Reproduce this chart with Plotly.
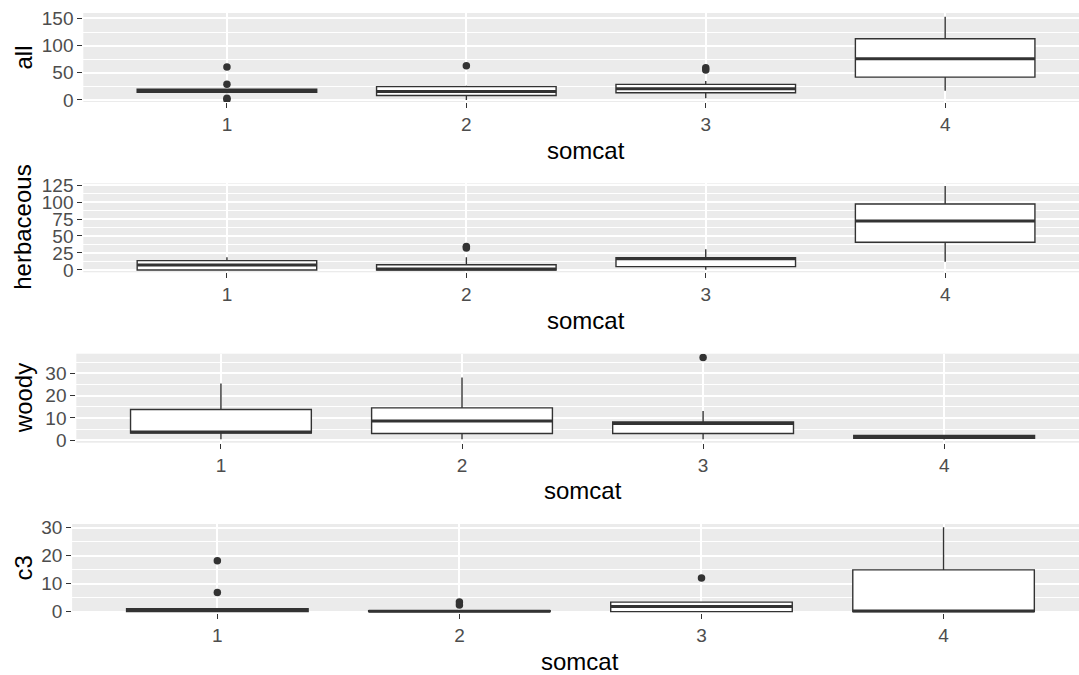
import plotly.graph_objects as go

# ---------------- data ----------------
categories = [1, 2, 3, 4]
tick_labels = ["1", "2", "3", "4"]
panel_names = ["all", "herbaceous", "woody", "c3"]
x_title = "somcat"

all_q1 = [14.0, 8.0, 13.2, 42.0]
all_median = [17.0, 15.5, 20.5, 75.8]
all_q3 = [19.5, 24.5, 28.6, 112.6]
all_lower = [12.0, 0.0, 3.0, 16.9]
all_upper = [21.0, 26.0, 35.0, 153.0]
all_outliers = [[60.5, 29.0, 3.0, 0.5], [63.0], [59.0, 55.0], []]

herb_q1 = [0.0, 0.0, 4.9, 40.7]
herb_median = [7.4, 1.3, 16.6, 72.1]
herb_q3 = [13.7, 7.7, 18.1, 97.1]
herb_lower = [0.0, 0.0, 0.5, 12.2]
herb_upper = [18.7, 18.7, 30.4, 123.5]
herb_outliers = [[], [34.7, 32.2], [], []]

woody_q1 = [3.2, 3.0, 3.0, 0.9]
woody_median = [3.7, 8.6, 7.5, 1.5]
woody_q3 = [13.8, 14.5, 8.2, 2.1]
woody_lower = [0.5, 0.5, 0.5, 0.3]
woody_upper = [25.4, 28.1, 13.1, 2.5]
woody_outliers = [[], [], [37.1], []]

c3_q1 = [0.0, 0.0, 0.0, 0.0]
c3_median = [0.4, 0.1, 1.8, 0.2]
c3_q3 = [1.0, 0.3, 3.4, 14.9]
c3_lower = [0.0, 0.0, 0.0, 0.0]
c3_upper = [1.2, 0.4, 3.6, 30.1]
c3_outliers = [[18.2, 6.8], [3.4, 2.4], [12.0], []]

y_ticks_all = [0, 50, 100, 150]
y_ticks_herb = [0, 25, 50, 75, 100, 125]
y_ticks_woody = [0, 10, 20, 30]
y_ticks_c3 = [0, 10, 20, 30]

# ---------------- styling / layout ----------------
W, H = 1079, 675
panel_top = [13, 183.3, 353.7, 524]
panel_h = 89
panel_left = [83.3, 83.3, 76.3, 72.1]
full_right = 1088.8        # ggplot panel right edge (image is cropped at 1079)
y_ranges = [[-3.9, 160.0], [-3.4, 127.5], [-1.1, 38.8], [-0.5, 31.3]]
box_width = 0.75
INK = "#333333"
FONT = "Liberation Sans, Arial, sans-serif"

panels = [
    (all_q1, all_median, all_q3, all_lower, all_upper, all_outliers, y_ticks_all, 25),
    (herb_q1, herb_median, herb_q3, herb_lower, herb_upper, herb_outliers, y_ticks_herb, 12.5),
    (woody_q1, woody_median, woody_q3, woody_lower, woody_upper, woody_outliers, y_ticks_woody, 5),
    (c3_q1, c3_median, c3_q3, c3_lower, c3_upper, c3_outliers, y_ticks_c3, 5),
]

fig = go.Figure()
annotations = []
layout_axes = {}

for i, (q1, med, q3, lo, up, outs, yt, minor_step) in enumerate(panels):
    xa = "x" if i == 0 else f"x{i+1}"
    ya = "y" if i == 0 else f"y{i+1}"
    xkey = "xaxis" if i == 0 else f"xaxis{i+1}"
    ykey = "yaxis" if i == 0 else f"yaxis{i+1}"

    fig.add_trace(go.Box(
        x=categories, q1=q1, median=med, q3=q3, lowerfence=lo, upperfence=up,
        xaxis=xa, yaxis=ya, width=box_width, fillcolor="white",
        line=dict(color=INK, width=1.4), whiskerwidth=0, boxpoints=False,
        showlegend=False, hoverinfo="skip",
    ))
    # thicker median line (ggplot fatten = 2)
    mx, my = [], []
    for c, m in zip(categories, med):
        mx += [c - box_width / 2, c + box_width / 2, None]
        my += [m, m, None]
    fig.add_trace(go.Scatter(x=mx, y=my, mode="lines", xaxis=xa, yaxis=ya,
                             line=dict(color=INK, width=3), showlegend=False,
                             hoverinfo="skip"))
    ox, oy = [], []
    for c, vals in zip(categories, outs):
        for v in vals:
            ox.append(c)
            oy.append(v)
    fig.add_trace(go.Scatter(x=ox, y=oy, mode="markers", xaxis=xa, yaxis=ya,
                             marker=dict(color=INK, size=7.5), showlegend=False,
                             hoverinfo="skip"))

    left = panel_left[i]
    spacing = (full_right - left) / 4.2
    xr = [0.4, 0.4 + (W - left) / spacing]

    top = panel_top[i]
    common = dict(
        showgrid=True, gridcolor="white", gridwidth=1.6, zeroline=False,
        showline=False, ticks="outside", ticklen=5, tickwidth=1.4, tickcolor=INK,
        tickfont=dict(family=FONT, size=19, color="#4D4D4D"), fixedrange=True,
        automargin=False,
    )
    layout_axes[xkey] = dict(
        domain=[left / W, 1.0], range=xr, anchor=ya,
        tickmode="array", tickvals=categories, ticktext=tick_labels, **common,
    )
    layout_axes[ykey] = dict(
        domain=[1 - (top + panel_h) / H, 1 - top / H], range=y_ranges[i], anchor=xa,
        tickmode="array", tickvals=yt, ticktext=[str(t) for t in yt],
        minor=dict(tickmode="linear", tick0=0, dtick=minor_step, showgrid=True,
                   gridcolor="white", gridwidth=0.8, ticks=""),
        **common,
    )

    annotations.append(dict(
        text=panel_names[i], xref="paper", yref="paper", x=23 / W,
        y=1 - (top + panel_h / 2) / H, textangle=-90, showarrow=False,
        xanchor="center", yanchor="middle",
        font=dict(family=FONT, size=24, color="black"),
    ))
    annotations.append(dict(
        text=x_title, xref="paper", yref="paper", x=((left + full_right) / 2) / W,
        y=1 - (top + 137) / H, showarrow=False, xanchor="center", yanchor="middle",
        font=dict(family=FONT, size=24, color="black"),
    ))

fig.update_layout(
    width=W, height=H, margin=dict(l=0, r=0, t=0, b=0, pad=0, autoexpand=False),
    paper_bgcolor="white", plot_bgcolor="#EBEBEB",
    annotations=annotations, showlegend=False, **layout_axes,
)

fig.write_html("out.html", config={"displayModeBar": False},
               post_script="document.body.style.margin='0';document.body.style.overflow='hidden';")
